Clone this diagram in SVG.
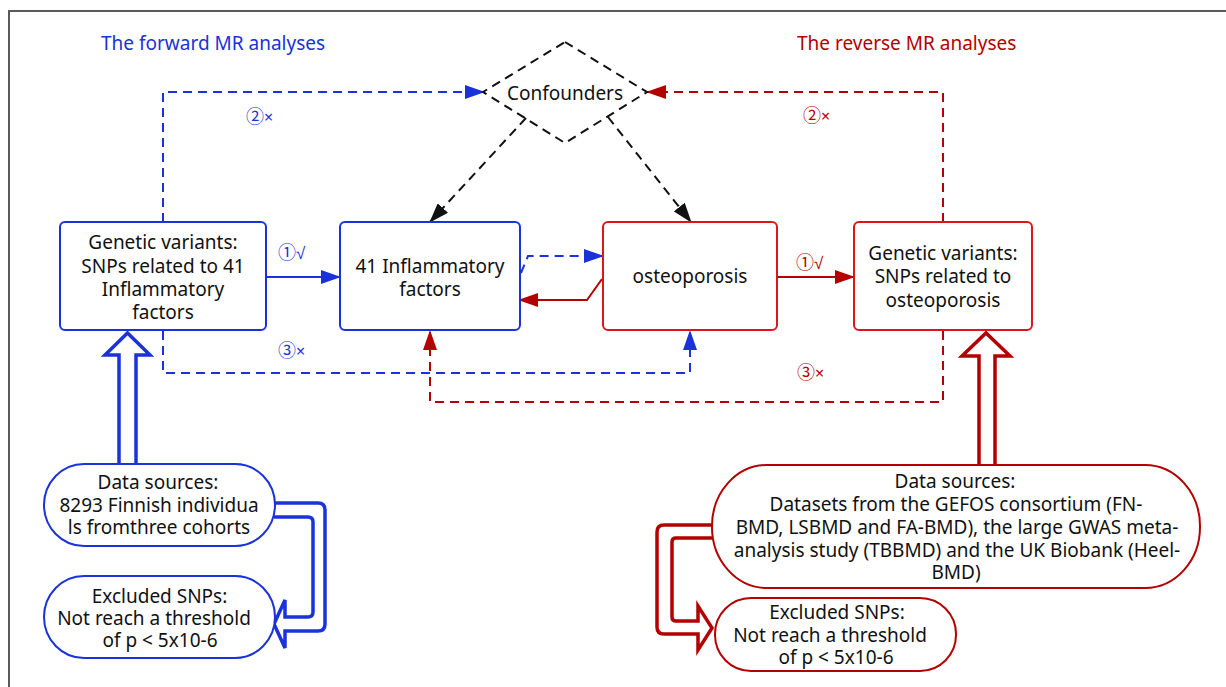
<svg xmlns="http://www.w3.org/2000/svg" width="1226" height="687" viewBox="0 0 1226 687">
  <style>
    text { font-family: "Noto Sans", "Open Sans", "DejaVu Sans", sans-serif; font-size: 19px; fill: #111; }
    .mid { text-anchor: middle; }
    .lbl { font-family: "Noto Sans CJK SC", "Noto Sans", sans-serif; font-size: 18px; }
    .sym { font-family: "Noto Sans", sans-serif; font-size: 16px; }
    .chk { font-family: "Liberation Sans", "Noto Sans", sans-serif; font-size: 17px; }
    .blueT { fill: #1a32d9; }
    .redT { fill: #b30000; }
    .boxB { fill: #fff; stroke: #1a32d9; stroke-width: 2; }
    .boxR { fill: #fff; stroke: #e0151b; stroke-width: 2; }
    .padB { fill: #fff; stroke: #1a32d9; stroke-width: 2; }
    .padR { fill: #fff; stroke: #b30000; stroke-width: 2; }
    .dashB { fill: none; stroke: #1a32d9; stroke-width: 2; stroke-dasharray: 9 6; }
    .dashR { fill: none; stroke: #b30000; stroke-width: 2; stroke-dasharray: 9 6; }
    .dashK { fill: none; stroke: #111; stroke-width: 2; stroke-dasharray: 9 6; }
    .solidB { fill: none; stroke: #1a32d9; stroke-width: 2; }
    .solidR { fill: none; stroke: #b30000; stroke-width: 2; }
    .hollowB { fill: #fff; stroke: #1a32d9; stroke-width: 3.5; stroke-linejoin: miter; }
    .hollowR { fill: #fff; stroke: #b30000; stroke-width: 3.5; stroke-linejoin: miter; }
  </style>
  <defs>
    <marker id="arrB" markerUnits="userSpaceOnUse" markerWidth="20" markerHeight="14" refX="19" refY="7" orient="auto">
      <path d="M0,0 L20,7 L0,14 z" fill="#1a32d9"/>
    </marker>
    <marker id="arrR" markerUnits="userSpaceOnUse" markerWidth="20" markerHeight="14" refX="19" refY="7" orient="auto">
      <path d="M0,0 L20,7 L0,14 z" fill="#b30000"/>
    </marker>
    <marker id="arrK" markerUnits="userSpaceOnUse" markerWidth="20" markerHeight="14" refX="19" refY="7" orient="auto">
      <path d="M0,0 L20,7 L0,14 z" fill="#111"/>
    </marker>
  </defs>

  <rect width="1226" height="687" fill="#fff"/>
  <!-- outer frame -->
  <path d="M9,687 V11 H1226" fill="none" stroke="#5a5a5a" stroke-width="2"/>

  <!-- headings -->
  <text class="blueT" x="101" y="50">The forward MR analyses</text>
  <text class="redT" x="797" y="50">The reverse MR analyses</text>

  <!-- connectors -->
  <g id="connectors">
    <path class="dashB" d="M163,222 V92 H484" marker-end="url(#arrB)"/>
    <path class="dashR" d="M943,222 V92 H647" marker-end="url(#arrR)"/>
    <path class="dashK" d="M526,118 L430,222" marker-end="url(#arrK)"/>
    <path class="dashK" d="M608,117 L691,222" marker-end="url(#arrK)"/>
    <path class="solidB" d="M266,277 H340" marker-end="url(#arrB)"/>
    <path class="solidR" d="M777,277 H854" marker-end="url(#arrR)"/>
    <path class="dashB" d="M521,273 L528,256 H603" marker-end="url(#arrB)"/>
    <path class="solidR" d="M602,279 L587,300 H519" marker-end="url(#arrR)"/>
    <path class="dashB" d="M163,331 V373 H690 V331" marker-end="url(#arrB)"/>
    <path class="dashR" d="M943,331 V402 H430 V331" marker-end="url(#arrR)"/>
    <!-- hollow flow arrows -->
    <path class="hollowB" d="M119,466 V355 H105 L127.5,333 L150,355 H136 V466"/>
    <path class="hollowB" d="M274,503 H318 Q325,503 325,510 V624 Q325,631 318,631 H285 V648 L274,624 L285,600 V617 H308 Q313,617 313,612 V522 Q313,517 308,517 H274"/>
    <path class="hollowR" d="M979,466 V356 H962 L986,333 L1010,356 H995 V466"/>
    <path class="hollowR" d="M713,525 H664 Q657,525 657,532 V627 Q657,634 664,634 H698 V650 L712,628 L698,606 V621 H676 Q672,621 672,617 V542 Q672,538 676,538 H713"/>
    <!-- path labels -->
    <text class="lbl blueT" x="246" y="123">②<tspan class="sym">×</tspan></text>
    <text class="lbl blueT" x="278" y="259">①<tspan class="chk">√</tspan></text>
    <text class="lbl blueT" x="278" y="357">③<tspan class="sym">×</tspan></text>
    <text class="lbl redT" x="803" y="122">②<tspan class="sym">×</tspan></text>
    <text class="lbl redT" x="796" y="269">①<tspan class="chk">√</tspan></text>
    <text class="lbl redT" x="797" y="379">③<tspan class="sym">×</tspan></text>
  </g>

  <g id="confounders">
    <path class="dashK" d="M565,42 L647,92 L565,143 L483,92 Z"/>
    <text class="mid" x="565" y="100">Confounders</text>
  </g>

  <g id="snps-inflammatory">
    <rect class="boxB" x="60" y="222" width="206" height="108" rx="5"/>
    <text class="mid" x="163" y="249">Genetic variants:</text>
    <text class="mid" x="163" y="272.5">SNPs related to 41</text>
    <text class="mid" x="163" y="296">Inflammatory</text>
    <text class="mid" x="163" y="319">factors</text>
  </g>

  <g id="inflammatory-factors">
    <rect class="boxB" x="340" y="222" width="180" height="108" rx="5"/>
    <text class="mid" x="430" y="273">41 Inflammatory</text>
    <text class="mid" x="430" y="296">factors</text>
  </g>

  <g id="osteoporosis">
    <rect class="boxR" x="603" y="222" width="174" height="108" rx="5"/>
    <text class="mid" x="690" y="283">osteoporosis</text>
  </g>

  <g id="snps-osteoporosis">
    <rect class="boxR" x="854" y="222" width="178" height="108" rx="5"/>
    <text class="mid" x="943" y="260">Genetic variants:</text>
    <text class="mid" x="943" y="283">SNPs related to</text>
    <text class="mid" x="943" y="307">osteoporosis</text>
  </g>

  <g id="data-forward">
    <rect class="padB" x="44" y="464" width="231" height="82" rx="40" ry="41"/>
    <text class="mid" x="158" y="489">Data sources:</text>
    <text class="mid" x="159" y="512">8293 Finnish individua</text>
    <text class="mid" x="159" y="534">ls fromthree cohorts</text>
  </g>

  <g id="excluded-forward">
    <rect class="padB" x="44" y="576" width="231" height="82" rx="40" ry="41"/>
    <text class="mid" x="159.5" y="603">Excluded SNPs:</text>
    <text class="mid" x="154" y="625">Not reach a threshold</text>
    <text class="mid" x="160" y="647">of p &lt; 5x10-6</text>
  </g>

  <g id="data-reverse">
    <rect class="padR" x="712" y="465" width="488" height="123" rx="55" ry="61"/>
    <text class="mid" x="955" y="488">Data sources:</text>
    <text class="mid" x="956" y="511">Datasets from the GEFOS consortium (FN-</text>
    <text class="mid" x="957" y="534">BMD, LSBMD and FA-BMD), the large GWAS meta-</text>
    <text class="mid" x="957" y="557">analysis study (TBBMD) and the UK Biobank (Heel-</text>
    <text class="mid" x="956" y="579">BMD)</text>
  </g>

  <g id="excluded-reverse">
    <rect class="padR" x="715" y="598" width="241" height="73" rx="36" ry="36"/>
    <text class="mid" x="837" y="619">Excluded SNPs:</text>
    <text class="mid" x="830" y="642">Not reach a threshold</text>
    <text class="mid" x="836" y="664">of p &lt; 5x10-6</text>
  </g>
</svg>
